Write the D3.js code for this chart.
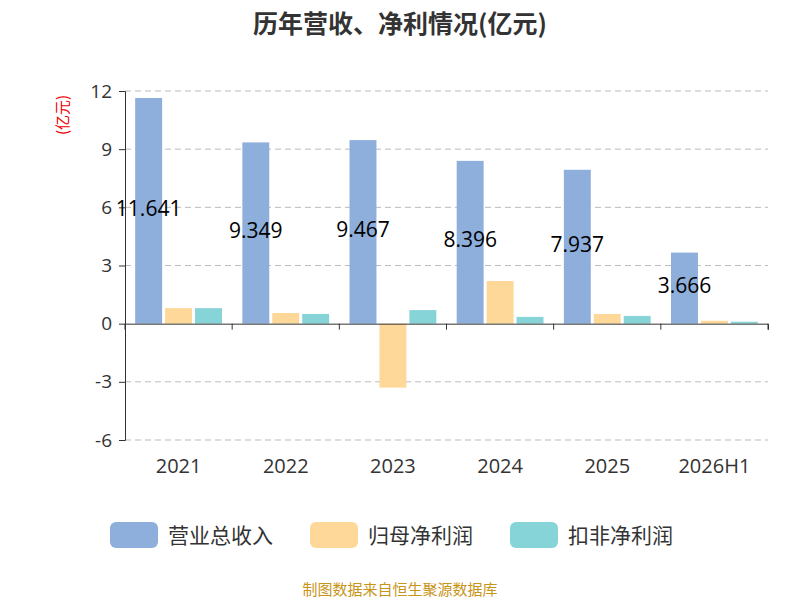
<!DOCTYPE html>
<html><head><meta charset="utf-8">
<script src="https://cdn.jsdelivr.net/npm/d3@7/dist/d3.min.js"></script>
<style>body{margin:0;background:#fff;font-family:"Open Sans","Noto Sans CJK SC",sans-serif}</style>
</head><body><svg id="c" width="800" height="600"></svg>
<script>
const categories=["2021","2022","2023","2024","2025","2026H1"];
const revenue=[11.641,9.349,9.467,8.396,7.937,3.666];
const netProfit=[0.8,0.55,-3.3,2.2,0.5,0.15];
const deductedProfit=[0.8,0.5,0.7,0.35,0.4,0.1];
const yTicks=[-6,-3,0,3,6,9,12];
const seriesNames=["营业总收入","归母净利润","扣非净利润"];
const colors=["#8eaedb","#fed899","#86d4d7"];
const series=[revenue,netProfit,deductedProfit];
const cjk='"Noto Sans CJK SC",sans-serif';

const svg=d3.select("#c");
const x=d3.scaleBand().domain(categories).range([125,768]).paddingInner(0.19).paddingOuter(0.095);
const y=d3.scaleLinear().domain([-6,12]).range([440,91]);
const xs=d3.scaleBand().domain([0,1,2]).range([0,x.bandwidth()]).paddingInner(0.1);

svg.append("text").attr("x",400).attr("y",33).attr("text-anchor","middle").attr("font-size",25).attr("font-weight","bold").attr("font-family",cjk).attr("fill","#333").text("历年营收、净利情况(亿元)");
svg.append("text").attr("transform","translate(68,115) rotate(-90)").attr("text-anchor","middle").attr("font-size",15).attr("font-family",cjk).attr("fill","#e00").text("(亿元)");

svg.selectAll(".g").data(yTicks.filter(d=>d!==0)).join("line").attr("x1",125).attr("x2",768).attr("y1",d=>y(d)).attr("y2",d=>y(d)).attr("stroke","#bbb").attr("stroke-dasharray","6,4");

const ya=svg.append("g").attr("transform","translate(125,0)").call(d3.axisLeft(y).tickValues(yTicks).tickSize(6).tickFormat(d=>String(d)));
ya.selectAll("text").attr("font-size",19).attr("font-family","Open Sans").attr("fill","#333").attr("dx",-4);
ya.select(".domain").attr("stroke","#333");ya.selectAll("line").attr("stroke","#333");

series.forEach((s,i)=>{
 svg.selectAll(".b"+i).data(s).join("rect").attr("x",(d,j)=>x(categories[j])+xs(i)).attr("width",xs.bandwidth())
 .attr("y",d=>y(Math.max(0,d))).attr("height",d=>Math.abs(y(d)-y(0))).attr("fill",colors[i]);
});

const xa=svg.append("g").attr("transform",`translate(0,${y(0)})`).call(d3.axisBottom(x).tickSize(6).tickFormat(""));
xa.select(".domain").attr("stroke","#333");xa.selectAll("line").attr("stroke","#333");
const step=x.step();
xa.selectAll(".tick line").attr("transform",`translate(${-step/2},0)`);
xa.append("line").attr("x1",768).attr("x2",768).attr("y1",0).attr("y2",6).attr("stroke","#333");
svg.selectAll(".xl").data(categories).join("text").attr("x",d=>x(d)+x.bandwidth()/2).attr("y",473).attr("text-anchor","middle").attr("font-size",20).attr("font-family","Open Sans").attr("fill","#333").text(d=>d);

svg.selectAll(".vl").data(revenue).join("text").attr("x",(d,j)=>x(categories[j])+xs(0)+xs.bandwidth()/2).attr("y",d=>y(d/2)+5).attr("text-anchor","middle").attr("font-size",21).attr("font-family","Open Sans").attr("fill","#000").text(d=>d3.format(".3f")(d));

const lg=[110,310,510];
seriesNames.forEach((n,i)=>{
 svg.append("rect").attr("x",lg[i]).attr("y",522).attr("width",48).attr("height",26).attr("rx",6).attr("fill",colors[i]);
 svg.append("text").attr("x",lg[i]+58).attr("y",543).attr("font-size",21).attr("font-family",cjk).attr("fill","#333").text(n);
});
svg.append("text").attr("x",400).attr("y",595).attr("text-anchor","middle").attr("font-size",15).attr("font-family",cjk).attr("fill","#c8941a").text("制图数据来自恒生聚源数据库");
</script></body></html>
